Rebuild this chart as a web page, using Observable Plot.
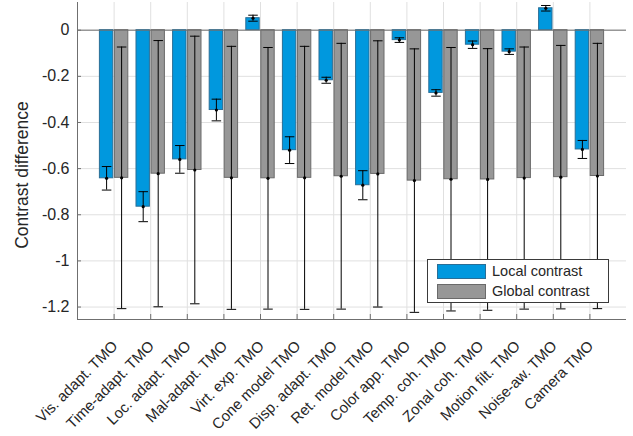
<!DOCTYPE html>
<html><head><meta charset="utf-8">
<script src="https://cdn.jsdelivr.net/npm/d3@7"></script>
<script src="https://cdn.jsdelivr.net/npm/@observablehq/plot@0.6"></script>
<style>
body{margin:0;background:#fff;}
#wrap{position:relative;width:633px;height:436px;font-family:"Liberation Sans",Arial,sans-serif;color:#262626;}
.legend{position:absolute;left:427px;top:259px;width:182px;height:44px;border:1px solid #3a3a3a;background:#fff;box-sizing:border-box;}
.legend .item{position:absolute;left:9px;height:15px;display:flex;align-items:center;}
.legend .sw{width:47px;height:13px;box-sizing:content-box;}
.legend .lab{position:absolute;left:55px;top:-2px;white-space:nowrap;font-size:14.5px;line-height:18px;}
</style></head><body><div id="wrap"></div>
<script>
const methods = ["Vis. adapt. TMO","Time-adapt. TMO","Loc. adapt. TMO","Mal-adapt. TMO","Virt. exp. TMO","Cone model TMO","Disp. adapt. TMO","Ret. model TMO","Color app. TMO","Temp. coh. TMO","Zonal coh. TMO","Motion filt. TMO","Noise-aw. TMO","Camera TMO"];
const localMean = [-0.642, -0.765, -0.56, -0.346, 0.052, -0.52, -0.217, -0.672, -0.043, -0.272, -0.063, -0.093, 0.095, -0.517];
const localErr = [0.051, 0.065, 0.06, 0.047, 0.013, 0.058, 0.013, 0.063, 0.01, 0.014, 0.016, 0.012, 0.012, 0.039];
const globalMean = [-0.64, -0.622, -0.606, -0.64, -0.642, -0.64, -0.633, -0.623, -0.652, -0.646, -0.647, -0.641, -0.637, -0.632];
const globalErr = [0.567, 0.577, 0.58, 0.57, 0.567, 0.57, 0.576, 0.577, 0.571, 0.571, 0.567, 0.568, 0.571, 0.575];
const seriesNames = ["Local contrast", "Global contrast"];
const seriesFill = ["#0098de", "#979797"];
const seriesStroke = ["#2a6e96", "#6a6a6a"];
const yTicks = [-1.2, -1, -0.8, -0.6, -0.4, -0.2, 0];
const yLabel = "Contrast difference";

const xDomain = [0, methods.length + 1];
const yDomain = [-1.254, 0.12];
const xTicks = methods.map((m, i) => i + 1);
const offset = 0.205, half = 0.183, cap = 0.13;

const local = methods.map((m, i) => ({pos: i + 1 - offset, mean: localMean[i], err: localErr[i]}));
const global = methods.map((m, i) => ({pos: i + 1 + offset, mean: globalMean[i], err: globalErr[i]}));
const rows = local.concat(global);

const axisColor = "#6f6f6f";
const chart = Plot.plot({
  width: 633, height: 436,
  marginLeft: 77, marginRight: 7, marginTop: 2, marginBottom: 117,
  style: {fontFamily: "'Liberation Sans', Arial, sans-serif", fontSize: "16px", color: "#262626", background: "#fff"},
  x: {domain: xDomain},
  y: {domain: yDomain},
  marks: [
    Plot.gridX(xTicks, {stroke: "#e0e0e0", strokeOpacity: 1}),
    Plot.gridY(yTicks, {stroke: "#e0e0e0", strokeOpacity: 1}),
    Plot.rectY(local, {x1: d => d.pos - half, x2: d => d.pos + half, y1: 0, y2: "mean", fill: seriesFill[0], stroke: seriesStroke[0], strokeWidth: 1}),
    Plot.rectY(global, {x1: d => d.pos - half, x2: d => d.pos + half, y1: 0, y2: "mean", fill: seriesFill[1], stroke: seriesStroke[1], strokeWidth: 1}),
    Plot.ruleY([0], {stroke: axisColor}),
    Plot.ruleX(rows, {x: "pos", y1: d => d.mean - d.err, y2: d => d.mean + d.err, stroke: "#000", strokeWidth: 1}),
    Plot.link(rows, {x1: d => d.pos - cap, x2: d => d.pos + cap, y1: d => d.mean + d.err, y2: d => d.mean + d.err, stroke: "#000", strokeWidth: 1}),
    Plot.link(rows, {x1: d => d.pos - cap, x2: d => d.pos + cap, y1: d => d.mean - d.err, y2: d => d.mean - d.err, stroke: "#000", strokeWidth: 1}),
    Plot.dot(rows, {x: "pos", y: "mean", r: 1.6, fill: "#000", stroke: null}),
    Plot.ruleX([xDomain[0]], {stroke: axisColor}),
    Plot.ruleY([yDomain[0]], {stroke: axisColor}),
    Plot.axisY(yTicks, {tickSize: -4, fill: "none", stroke: axisColor, label: null}),
    Plot.axisY(yTicks, {tickSize: 0, tickPadding: 8, tickFormat: d => String(d), label: null, fill: "#262626"}),
    Plot.axisX(xTicks, {tickSize: -5, fill: "none", stroke: axisColor, label: null}),
    Plot.axisX(xTicks, {tickSize: 0, tickPadding: 24, dx: 1, fontSize: 15, tickRotate: -45, tickFormat: i => methods[i - 1], label: null, fill: "#262626"}),
    Plot.text([yLabel], {text: d => d, frameAnchor: "left", rotate: -90, dx: -55, dy: 14, fontSize: 17.5, textAnchor: "middle", lineAnchor: "middle", fill: "#262626"})
  ]
});
const wrap = document.getElementById("wrap");
wrap.appendChild(chart);
const leg = document.createElement("div");
leg.className = "legend";
seriesNames.forEach((name, i) => {
  const it = document.createElement("div");
  it.className = "item";
  it.style.top = (4 + i * 19.5) + "px";
  const sw = document.createElement("div");
  sw.className = "sw";
  sw.style.background = seriesFill[i];
  sw.style.border = "1px solid " + seriesStroke[i];
  const lab = document.createElement("div");
  lab.className = "lab";
  lab.textContent = name;
  it.appendChild(sw); it.appendChild(lab);
  leg.appendChild(it);
});
wrap.appendChild(leg);
</script>
</body></html>
